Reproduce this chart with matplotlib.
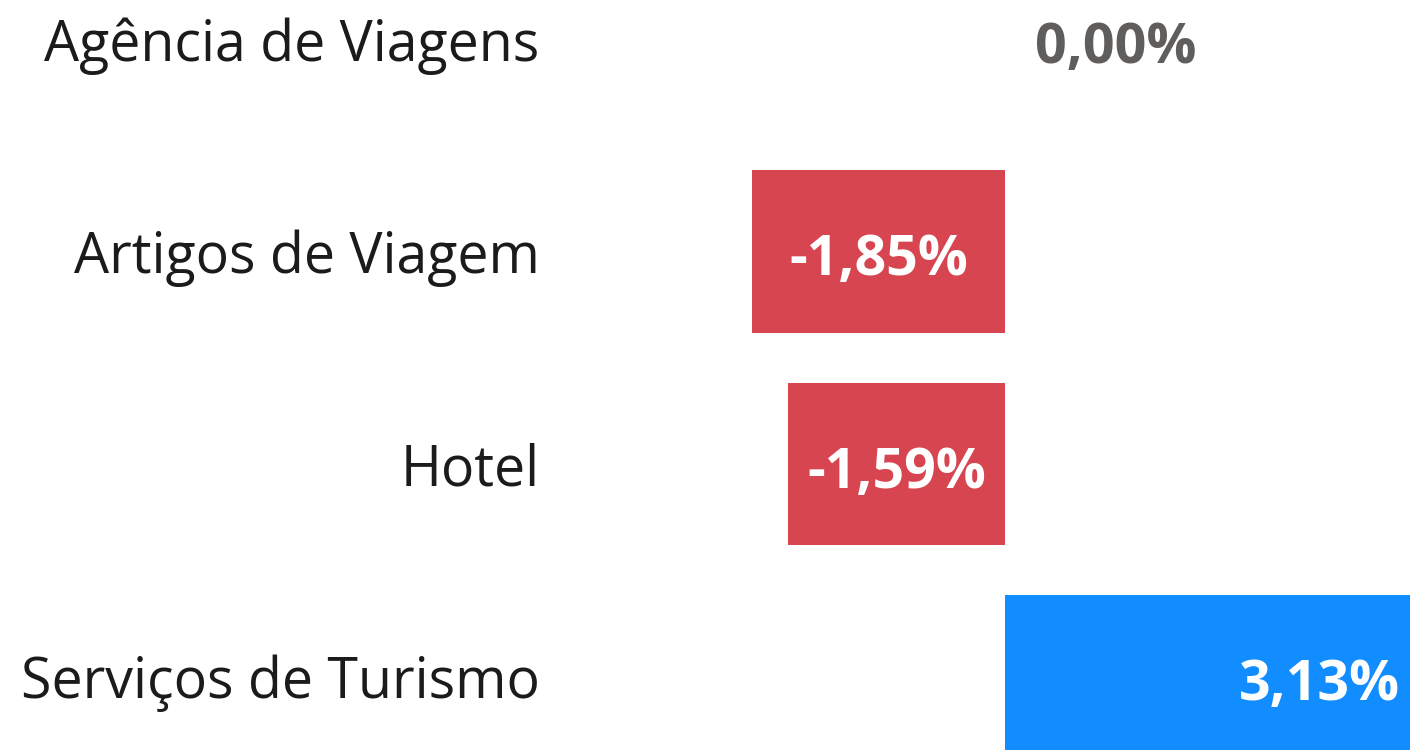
import matplotlib
matplotlib.use("Agg")
import matplotlib.pyplot as plt

categories = ["Agência de Viagens", "Artigos de Viagem", "Hotel", "Serviços de Turismo"]
values = [0.00, -1.85, -1.59, 3.13]
labels = ["0,00%", "-1,85%", "-1,59%", "3,13%"]

NEG = "#D64550"
POS = "#118DFF"
FONT = "Open Sans"

fig = plt.figure(figsize=(14.10, 7.50), dpi=100)
ax = fig.add_axes([548 / 1410, 0, 1 - 548 / 1410, 1])

ypos = list(range(len(categories)))
colors = [POS if v >= 0 else NEG for v in values]
ax.barh(ypos, values, height=0.767, color=colors, clip_on=True)

scale = 136.7  # px per unit
x0 = -(1005 - 548) / scale
x1 = (1410 - 1005) / scale
ax.set_xlim(x0, x1)
ax.set_ylim((750 - 39) / 212.5, -39 / 212.5)

ax.set_yticks(ypos)
ax.set_yticklabels(categories, fontsize=40, family=FONT, color="#1B1B1B")
ax.tick_params(axis="y", length=0, pad=6)
ax.set_xticks([])
for s in ax.spines.values():
    s.set_visible(False)

dy = -6.5
for y, v, lab in zip(ypos, values, labels):
    if v == 0:
        ax.annotate(lab, (v, y), xytext=(21.6, dy), textcoords="offset points",
                    ha="left", va="center", fontsize=40, fontweight="bold",
                    family=FONT, color="#605E5C")
    elif v < 0:
        ax.annotate(lab, (v / 2, y), xytext=(0, dy), textcoords="offset points",
                    ha="center", va="center", fontsize=40,
                    fontweight="bold", family=FONT, color="white")
    else:
        ax.annotate(lab, (v, y), xytext=(-23.8, dy), textcoords="offset points",
                    ha="right", va="center", fontsize=40, fontweight="bold",
                    family=FONT, color="white", annotation_clip=False)

fig.savefig("out.png", dpi=100, facecolor="white")
